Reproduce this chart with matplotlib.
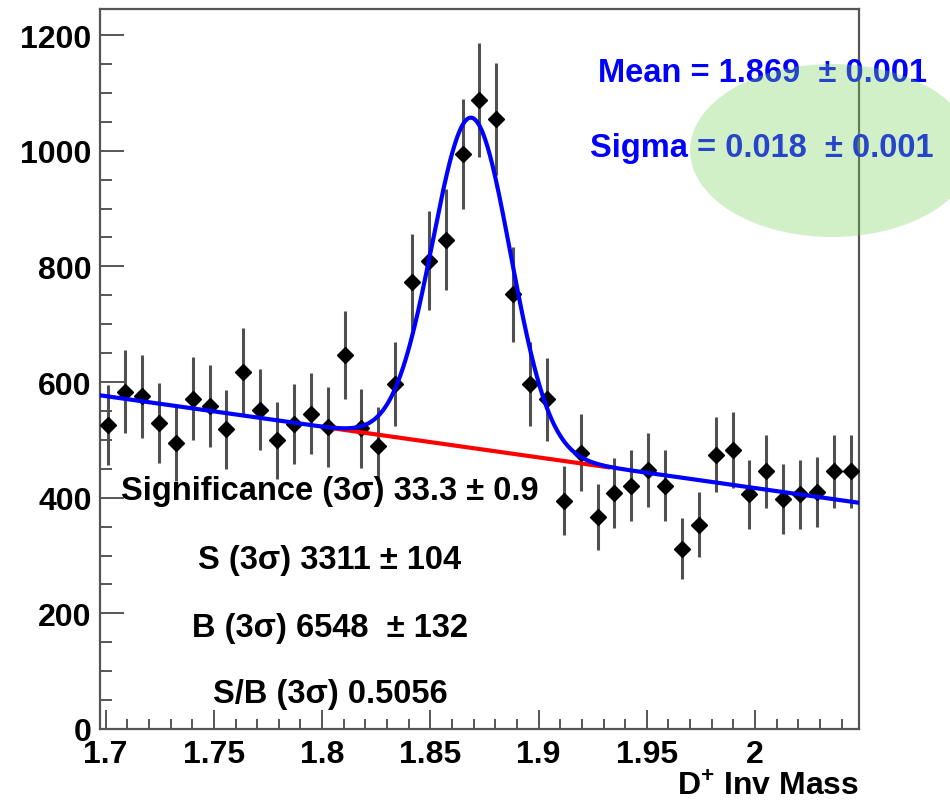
import matplotlib
matplotlib.use('Agg')
import matplotlib.pyplot as plt
from matplotlib.patches import Ellipse
from matplotlib.ticker import MultipleLocator
import numpy as np

plt.rcParams['font.family'] = ['Liberation Sans', 'DejaVu Sans']
plt.rcParams['font.weight'] = 'bold'
plt.rcParams['mathtext.fontset'] = 'custom'
plt.rcParams['mathtext.rm'] = 'Liberation Sans:bold'
plt.rcParams['mathtext.bf'] = 'Liberation Sans:bold'

# binning of the D+ invariant mass histogram
mass_lo, mass_hi, n_bins = 1.6974, 2.0480, 45

# bin contents and their errors
counts = [526, 583, 575, 529, 495, 571, 558, 518, 618, 552,
          499, 527, 545, 522, 647, 520, 490, 597, 773, 810,
          846, 995, 1088, 1055, 752, 597, 570, 395, 478, 366,
          408, 421, 448, 421, 312, 353, 474, 482, 406, 446,
          398, 406, 410, 446, 446]
errors = [69, 72, 72, 69, 67, 72, 71, 68, 75, 70,
          67, 69, 70, 69, 76, 68, 66, 73, 83, 85,
          87, 95, 99, 97, 82, 73, 72, 60, 66, 57,
          61, 62, 64, 62, 53, 56, 65, 66, 60, 63,
          60, 60, 61, 63, 63]

# fit: gaussian + linear background
fit_mean, fit_sigma, fit_amp = 1.869, 0.018, 571
bkg_at_lo, bkg_slope = 577, -530
sig_lo, sig_hi = 1.806, 1.932   # range where the background alone is shown

fit_texts = ['Mean = 1.869  ± 0.001', 'Sigma = 0.018  ± 0.001']
yield_texts = ['Significance (3σ) 33.3 ± 0.9', 'S (3σ) 3311 ± 104',
               'B (3σ) 6548  ± 132', 'S/B (3σ) 0.5056']

W, H = 950, 812
fig = plt.figure(figsize=(W / 100, H / 100), dpi=100)
ax = fig.add_axes([100 / W, 1 - 730 / H, 759 / W, 720 / H])

edges = np.linspace(mass_lo, mass_hi, n_bins + 1)
centers = 0.5 * (edges[:-1] + edges[1:])


def bkg(x):
    return bkg_at_lo + bkg_slope * (x - mass_lo)


xs = np.linspace(mass_lo, mass_hi, 600)
total = bkg(xs) + fit_amp * np.exp(-0.5 * ((xs - fit_mean) / fit_sigma) ** 2)
xb = np.linspace(sig_lo, sig_hi, 50)

ax.errorbar(centers, counts, yerr=errors, fmt='none', ecolor='#505050',
            elinewidth=2.2, capsize=0, zorder=2)
ax.plot(centers, counts, 'D', color='black', ms=8, zorder=3)
ax.plot(xb, bkg(xb), color='#ff0000', lw=3, zorder=4)
ax.plot(xs, total, color='#0000ff', lw=3, zorder=5)

ax.set_xlim(mass_lo, mass_hi)
ax.set_ylim(0, 1245)
ax.xaxis.set_minor_locator(MultipleLocator(0.01))
ax.yaxis.set_major_locator(MultipleLocator(200))
ax.yaxis.set_minor_locator(MultipleLocator(50))
ax.set_xticks([1.7, 1.75, 1.8, 1.85, 1.9, 1.95, 2.0])
ax.set_xticklabels(['1.7', '1.75', '1.8', '1.85', '1.9', '1.95', '2'])

for s in ax.spines.values():
    s.set_color('#555555')
    s.set_linewidth(1.6)
ax.tick_params(axis='both', which='both', direction='in', color='#555555',
               width=1.4, labelsize=23, top=False, right=False)
ax.tick_params(axis='x', which='major', length=14, pad=7)
ax.tick_params(axis='x', which='minor', length=7)
ax.tick_params(axis='y', which='major', length=17, pad=6)
ax.tick_params(axis='y', which='minor', length=8.6)
for lab in ax.get_xticklabels() + ax.get_yticklabels():
    lab.set_fontweight('bold')

ax.text(1.0, -(788 - 730) / 720, 'D$^{+}$ Inv Mass', transform=ax.transAxes,
        ha='right', va='center', fontsize=23, fontweight='bold')

for txt, ypx in zip(yield_texts, [492, 560, 628, 695]):
    fig.text(330 / W, 1 - ypx / H, txt, ha='center', va='center',
             fontsize=23.5, fontweight='bold', zorder=6)

for txt, ypx in zip(fit_texts, [73, 148]):
    fig.text(762 / W, 1 - ypx / H, txt, ha='center', va='center',
             fontsize=23.5, fontweight='bold', color='#0000ff', zorder=6)

fig.add_artist(Ellipse((832 / W, 1 - 151.5 / H), 284 / W, 173 / H,
                       transform=fig.transFigure, facecolor='#78d25a',
                       edgecolor='none', alpha=0.33, zorder=10))

fig.savefig('out.png', dpi=100)
